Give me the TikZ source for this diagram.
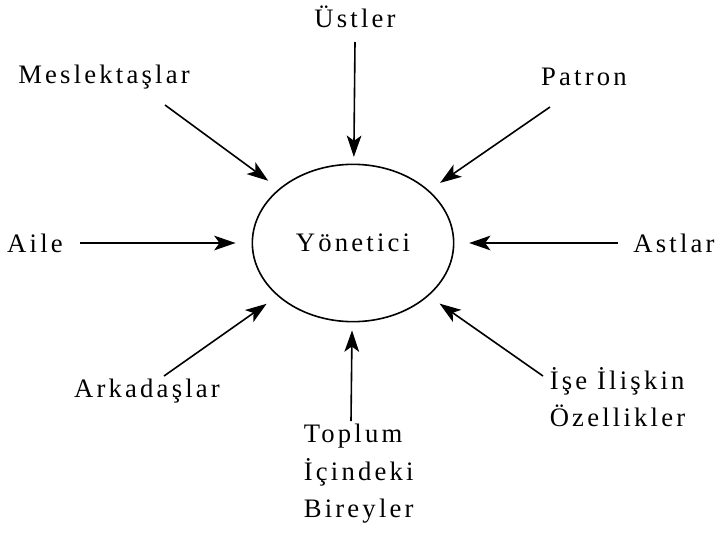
\documentclass[tikz,border=0pt]{standalone}
\usepackage{fontspec}
\setmainfont{Liberation Serif}[LetterSpace=12.0]
\usetikzlibrary{shapes.geometric, arrows.meta, positioning}

\begin{document}
\begin{tikzpicture}[
    x={(0.75pt,0)}, y={(0,-0.75pt)},
    >={Stealth[length=16pt,width=11pt,inset=4pt]},
    line width=1.2pt,
    every node/.style={font=\fontsize{20}{27.4}\selectfont},  % Font size of all labels
    source/.style={align=left, inner sep=0pt},
    centre/.style={ellipse, draw, minimum width=151pt, minimum height=118pt, inner sep=0pt},
    influence/.style={->, shorten >=#1},
    influence/.default=10pt
]
\useasboundingbox (0,0) rectangle (718,536);

% Manager in the middle
\node[centre] (yon) at (353,243) {Yönetici};

% Surrounding groups
\node[source] (ust) at (355,17) {Üstler};
\node[source] (mes) at (104,77) {Meslektaşlar};
\node[source] (pat) at (584,77) {Patron};
\node[source] (aile) at (35,243) {Aile};
\node[source] (ast) at (674,243) {Astlar};
\node[source] (ark) at (147,391) {Arkadaşlar};
\node[source, anchor=west] (ise) at (549,397) {İşe İlişkin\\Özellikler};
\node[source, anchor=west, font=\fontsize{20}{28.2}\selectfont] (top) at (303,474) {Toplum\\İçindeki\\Bireyler};

% Tails of the arrows
\coordinate (ust-t) at (355,42);
\coordinate (mes-t) at (165,105);
\coordinate (pat-t) at (550,107);
\coordinate (aile-t) at (80,243);
\coordinate (ast-t) at (618,243);
\coordinate (ark-t) at (164,376);
\coordinate (ise-t) at (543,376);
\coordinate (top-t) at (351,421);

% Arrows pointing at the manager
\draw[influence=5pt] (ust-t) -- (yon);
\draw[influence] (mes-t) -- (yon);
\draw[influence] (pat-t) -- (yon);
\draw[influence=12pt] (aile-t) -- (yon);
\draw[influence=11pt] (ast-t) -- (yon);
\draw[influence] (ark-t) -- (yon);
\draw[influence] (ise-t) -- (yon);
\draw[influence=6pt] (top-t) -- (yon);

\end{tikzpicture}
\end{document}
